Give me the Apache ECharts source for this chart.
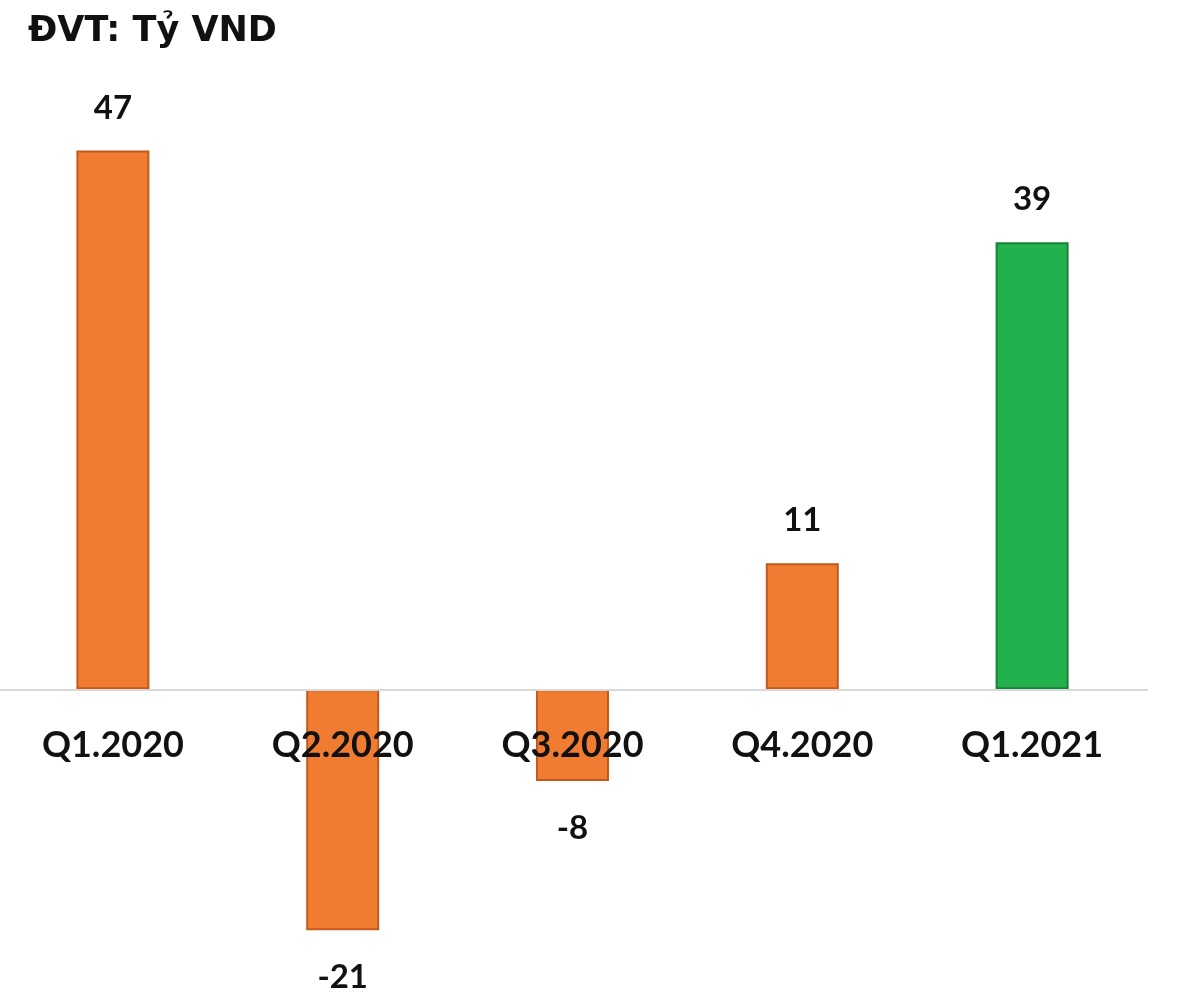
<!DOCTYPE html>
<html>
<head>
<meta charset="utf-8">
<title>ĐVT: Tỷ VND</title>
<script src="https://cdn.jsdelivr.net/npm/echarts@6/dist/echarts.min.js"></script>
<style>
  html, body { margin: 0; padding: 0; background: #fff; }
  #chart { width: 1181px; height: 1007px; }
</style>
</head>
<body>
<div id="chart"></div>
<script>
// số liệu
const quarters = ['Q1.2020', 'Q2.2020', 'Q3.2020', 'Q4.2020', 'Q1.2021'];
const profits = [47, -21, -8, 11, 39];
const highlight = [false, false, false, false, true];

const ORANGE = { color: '#F07C32', borderColor: '#C25A1C' };
const GREEN = { color: '#22B14D', borderColor: '#178238' };

// lưới: trục 0 nằm ở y ~ 689.5
const GRID_TOP = 116;
const GRID_H = 860;
const Y_MIN = -25;
const Y_MAX = 50;
const zeroY = GRID_TOP + GRID_H * Y_MAX / (Y_MAX - Y_MIN);
const axisOffset = -(GRID_TOP + GRID_H - zeroY);

const chart = echarts.init(document.getElementById('chart'));

const barData = profits.map((v, i) => {
  const style = highlight[i] ? GREEN : ORANGE;
  return {
    value: v,
    itemStyle: { color: style.color, borderColor: style.borderColor, borderWidth: 2 },
    label: v < 0 ? { position: 'bottom', distance: 31 } : { position: 'top', distance: 26 }
  };
});

chart.setOption({
  animation: false,
  title: {
    text: 'ĐVT: Tỷ VND',
    left: 23,
    top: 9,
    textStyle: {
      fontFamily: 'DejaVu Sans',
      fontWeight: 'bold',
      fontSize: 35,
      color: '#111'
    }
  },
  grid: {
    left: -2, right: 34, top: GRID_TOP, height: GRID_H,
    outerBoundsMode: 'none', containLabel: false
  },
  xAxis: {
    type: 'category',
    data: quarters,
    z: 5,
    offset: axisOffset,
    axisLine: { onZero: false, lineStyle: { color: '#d9d9d9', width: 2 } },
    axisTick: { show: false },
    axisLabel: {
      margin: 38,
      fontFamily: 'Lato',
      fontWeight: 'bold',
      fontSize: 36,
      color: '#111'
    }
  },
  yAxis: {
    type: 'value',
    min: Y_MIN,
    max: Y_MAX,
    show: false,
    splitLine: { show: false }
  },
  series: [{
    type: 'bar',
    barWidth: 73,
    data: barData,
    label: {
      show: true,
      fontFamily: 'Lato',
      fontWeight: 'bold',
      fontSize: 33,
      color: '#111'
    }
  }]
});
</script>
</body>
</html>
